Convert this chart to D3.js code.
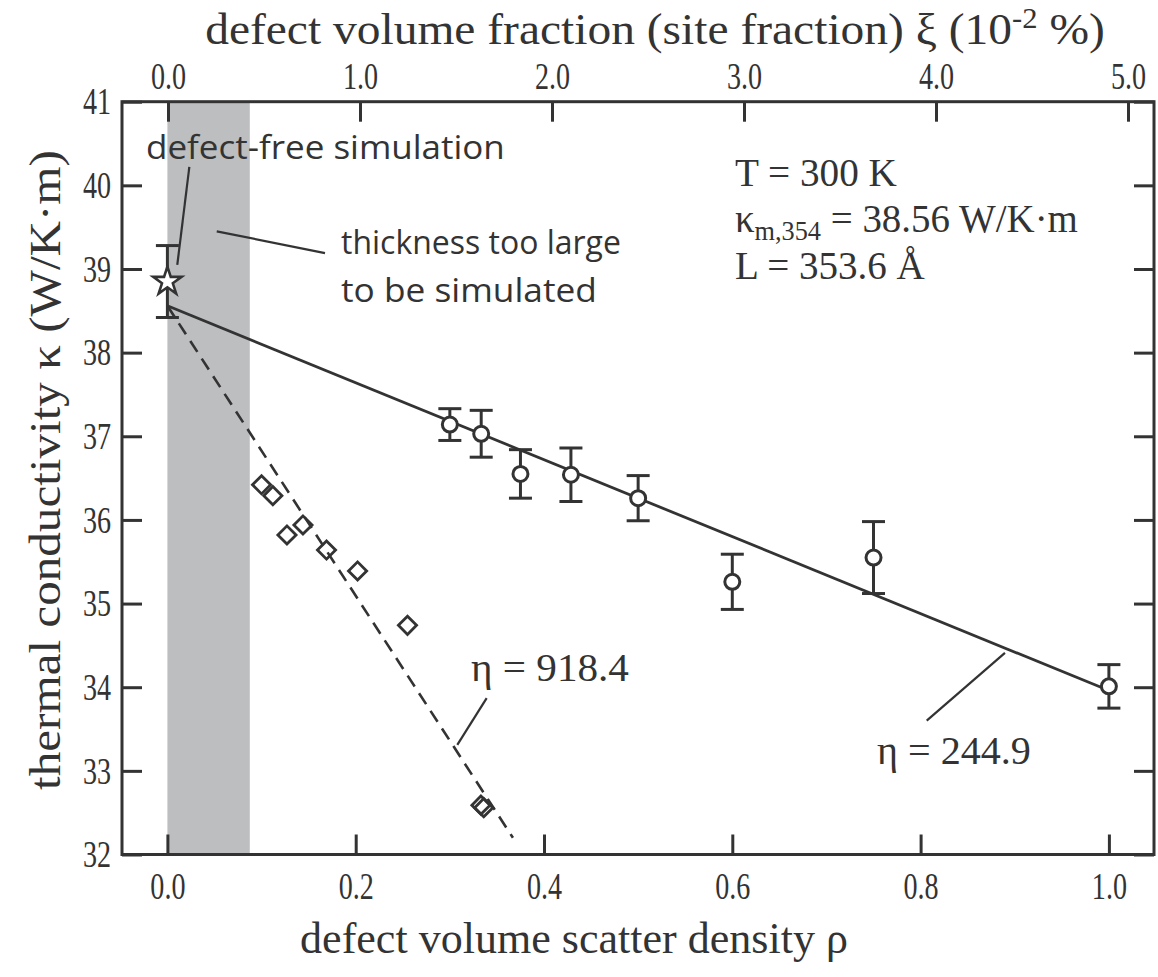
<!DOCTYPE html>
<html>
<head>
<meta charset="utf-8">
<script src="https://cdn.jsdelivr.net/npm/d3@7"></script>
<style>
  html, body { margin: 0; padding: 0; background: #ffffff; }
  svg { display: block; }
</style>
</head>
<body>
<svg id="chart" width="1158" height="977"></svg>
<script>
// ---------------- data ----------------
const xTicks = [0.0, 0.2, 0.4, 0.6, 0.8, 1.0];
const yTicks = [32, 33, 34, 35, 36, 37, 38, 39, 40, 41];
const topTicks = [0.0, 1.0, 2.0, 3.0, 4.0, 5.0];

// simulated points with error bars (circles)
const rhoCircle   = [0.300, 0.3333, 0.375, 0.4286, 0.500, 0.600, 0.750, 1.000];
const kappaCircle = [37.14, 37.03, 36.55, 36.54, 36.26, 35.26, 35.55, 34.01];
const errCircle   = [0.19, 0.28, 0.29, 0.32, 0.27, 0.33, 0.43, 0.26];

// defect-free simulation (star)
const rhoStar = [0.0];
const kappaStar = [38.85];
const errStar = [0.43];

// diamonds
const rhoDiamond   = [0.100, 0.112, 0.127, 0.144, 0.169, 0.202, 0.255, 0.333, 0.336];
const kappaDiamond = [36.42, 36.29, 35.82, 35.94, 35.64, 35.39, 34.74, 32.59, 32.56];

// fitted lines
const solidFitRho = [0.0, 1.0];
const solidFitKappa = [38.56, 33.96];
const dashedFitRho = [0.0, 0.367];
const dashedFitKappa = [38.56, 32.20];

// shaded region (thickness too large)
const bandRho = [0.0, 0.0875];

// ---------------- layout ----------------
const svg = d3.select("#chart");
const frame = { left: 122, right: 1154, top: 101.7, bottom: 854.5 };
const ink = "#333333";
const serif = "'Liberation Serif', 'Times New Roman', serif";
const sans = "'Open Sans', 'Noto Sans', sans-serif";

const x = d3.scaleLinear().domain([0, 1]).range([167.4, 1108.9]);
const xTop = d3.scaleLinear().domain([0, 5]).range([168, 1128]);
const y = d3.scaleLinear().domain([32, 41]).range([frame.bottom, frame.top]);

function fitWidth(sel, target, ox, oy) {
  const w = sel.node().getBBox().width;
  const s = target / w;
  sel.attr("transform", `translate(${ox},${oy}) scale(${s},1) translate(${-ox},${-oy})`);
}

// band
svg.append("rect")
  .attr("x", x(bandRho[0])).attr("width", x(bandRho[1]) - x(bandRho[0]))
  .attr("y", frame.top).attr("height", frame.bottom - frame.top)
  .attr("fill", "#bdbec0");

// fit lines
const line = d3.line().x(d => x(d[0])).y(d => y(d[1]));
svg.append("path")
  .datum(solidFitRho.map((r, i) => [r, solidFitKappa[i]]))
  .attr("d", line).attr("fill", "none").attr("stroke", ink).attr("stroke-width", 2.8);
svg.append("path")
  .datum(dashedFitRho.map((r, i) => [r, dashedFitKappa[i]]))
  .attr("d", line).attr("fill", "none").attr("stroke", ink).attr("stroke-width", 2.6)
  .attr("stroke-dasharray", "13,8");

// error bars
function errorBars(rhos, kappas, errs) {
  const g = svg.append("g").attr("stroke", ink).attr("stroke-width", 3).attr("fill", "none");
  rhos.forEach((r, i) => {
    const cx = x(r), y1 = y(kappas[i] + errs[i]), y2 = y(kappas[i] - errs[i]);
    g.append("line").attr("x1", cx).attr("x2", cx).attr("y1", y1).attr("y2", y2);
    g.append("line").attr("x1", cx - 11.5).attr("x2", cx + 11.5).attr("y1", y1).attr("y2", y1);
    g.append("line").attr("x1", cx - 11.5).attr("x2", cx + 11.5).attr("y1", y2).attr("y2", y2);
  });
}
errorBars(rhoCircle, kappaCircle, errCircle);
errorBars(rhoStar, kappaStar, errStar);

// circles
svg.append("g").selectAll("circle")
  .data(rhoCircle.map((r, i) => [r, kappaCircle[i]]))
  .join("circle")
  .attr("cx", d => x(d[0])).attr("cy", d => y(d[1])).attr("r", 7.5)
  .attr("fill", "#fff").attr("stroke", ink).attr("stroke-width", 3);

// diamonds
const diamond = d3.symbol().type(d3.symbolSquare).size(165);
svg.append("g").selectAll("path")
  .data(rhoDiamond.map((r, i) => [r, kappaDiamond[i]]))
  .join("path")
  .attr("d", diamond)
  .attr("transform", d => `translate(${x(d[0])},${y(d[1])}) rotate(45)`)
  .attr("fill", "none").attr("stroke", ink).attr("stroke-width", 2.8);

// star
const star = d3.symbol().type(d3.symbolStar).size(250);
svg.append("g").selectAll("path")
  .data(rhoStar.map((r, i) => [r, kappaStar[i]]))
  .join("path")
  .attr("d", star)
  .attr("transform", d => `translate(${x(d[0])},${y(d[1])})`)
  .attr("fill", "#fff").attr("stroke", ink).attr("stroke-width", 2.6);

// frame
svg.append("rect")
  .attr("x", frame.left).attr("y", frame.top)
  .attr("width", frame.right - frame.left).attr("height", frame.bottom - frame.top)
  .attr("fill", "none").attr("stroke", ink).attr("stroke-width", 3);

// axes
function styleAxis(g, fs) {
  g.select(".domain").remove();
  g.selectAll(".tick line").attr("stroke", ink).attr("stroke-width", 3);
  g.selectAll(".tick text").attr("fill", ink)
    .style("font-family", serif).style("font-size", fs + "px");
}
const gB = svg.append("g").attr("transform", `translate(0,${frame.bottom})`)
  .call(d3.axisBottom(x).tickValues(xTicks).tickSize(-20).tickPadding(18).tickFormat(d3.format(".1f")));
styleAxis(gB, 38);
const gT = svg.append("g").attr("transform", `translate(0,${frame.top})`)
  .call(d3.axisTop(xTop).tickValues(topTicks).tickSize(-20).tickPadding(13).tickFormat(d3.format(".1f")));
styleAxis(gT, 38);
const gL = svg.append("g").attr("transform", `translate(${frame.left},0)`)
  .call(d3.axisLeft(y).tickValues(yTicks).tickSize(-20).tickPadding(11).tickFormat(d3.format("d")));
styleAxis(gL, 38);
const gR = svg.append("g").attr("transform", `translate(${frame.right},0)`)
  .call(d3.axisRight(y).tickValues(yTicks).tickSize(-20).tickFormat(""));
styleAxis(gR, 38);
// condense tick labels (narrow serif)
[gB, gT, gL].forEach(g => g.selectAll(".tick text").attr("transform", "scale(0.74,1)"));
gL.selectAll(".tick text").attr("x", -11 / 0.74);

// axis titles
const tb = svg.append("text").attr("x", 574).attr("y", 953).attr("text-anchor", "middle")
  .attr("fill", ink).style("font-family", serif).style("font-size", "45px")
  .text("defect volume scatter density ρ");
fitWidth(tb, 548, 574, 953);

const tt = svg.append("text").attr("x", 655).attr("y", 44).attr("text-anchor", "middle")
  .attr("fill", ink).style("font-family", serif).style("font-size", "45px");
tt.append("tspan").text("defect volume fraction (site fraction) ξ (10");
tt.append("tspan").attr("dy", -16).style("font-size", "29px").text("-2");
tt.append("tspan").attr("dy", 16).text(" %)");
fitWidth(tt, 900, 655, 44);

const ty = svg.append("text")
  .attr("text-anchor", "middle").attr("fill", ink)
  .style("font-family", serif).style("font-size", "45px")
  .text("thermal conductivity κ (W/K·m)");
{
  const w = ty.node().getBBox().width;
  ty.attr("transform", `translate(60,470) rotate(-90) scale(${640 / w},1)`);
}

// annotations (sans)
const a1 = svg.append("text").attr("x", 146).attr("y", 159).attr("fill", ink)
  .style("font-family", sans).style("font-size", "33px").text("defect-free simulation");
fitWidth(a1, 359, 146, 159);
const a2 = svg.append("text").attr("x", 341).attr("y", 254).attr("fill", ink)
  .style("font-family", sans).style("font-size", "33px").text("thickness too large");
fitWidth(a2, 280, 341, 254);
const a3 = svg.append("text").attr("x", 341).attr("y", 302).attr("fill", ink)
  .style("font-family", sans).style("font-size", "33px").text("to be simulated");
fitWidth(a3, 256, 341, 302);

// leader lines (data coordinates)
const leaders = [
  [[0.0233, 40.22], [0.0105, 39.05]],
  [[0.0524, 39.45], [0.1674, 39.19]],
  [[0.3391, 33.87], [0.3079, 33.31]],
  [[0.8065, 33.60], [0.8896, 34.41]]
];
svg.append("g").selectAll("line").data(leaders).join("line")
  .attr("x1", d => x(d[0][0])).attr("y1", d => y(d[0][1]))
  .attr("x2", d => x(d[1][0])).attr("y2", d => y(d[1][1]))
  .attr("stroke", ink).attr("stroke-width", 2.2);

// annotations (serif)
const r1 = svg.append("text").attr("x", 735).attr("y", 186).attr("fill", ink)
  .style("font-family", serif).style("font-size", "40px").text("T = 300 K");
fitWidth(r1, 162, 735, 186);
const r2 = svg.append("text").attr("x", 735).attr("y", 232).attr("fill", ink)
  .style("font-family", serif).style("font-size", "40px");
r2.append("tspan").text("κ");
r2.append("tspan").attr("dy", 8).style("font-size", "27px").text("m,354");
r2.append("tspan").attr("dy", -8).text(" = 38.56 W/K·m");
fitWidth(r2, 343, 735, 232);
const r3 = svg.append("text").attr("x", 735).attr("y", 279).attr("fill", ink)
  .style("font-family", serif).style("font-size", "40px").text("L = 353.6 Å");
fitWidth(r3, 190, 735, 279);

const e1 = svg.append("text").attr("x", 471).attr("y", 681).attr("fill", ink)
  .style("font-family", serif).style("font-size", "40px").text("η = 918.4");
fitWidth(e1, 158, 471, 681);
const e2 = svg.append("text").attr("x", 877).attr("y", 764).attr("fill", ink)
  .style("font-family", serif).style("font-size", "40px").text("η = 244.9");
fitWidth(e2, 154, 877, 764);
</script>
</body>
</html>
